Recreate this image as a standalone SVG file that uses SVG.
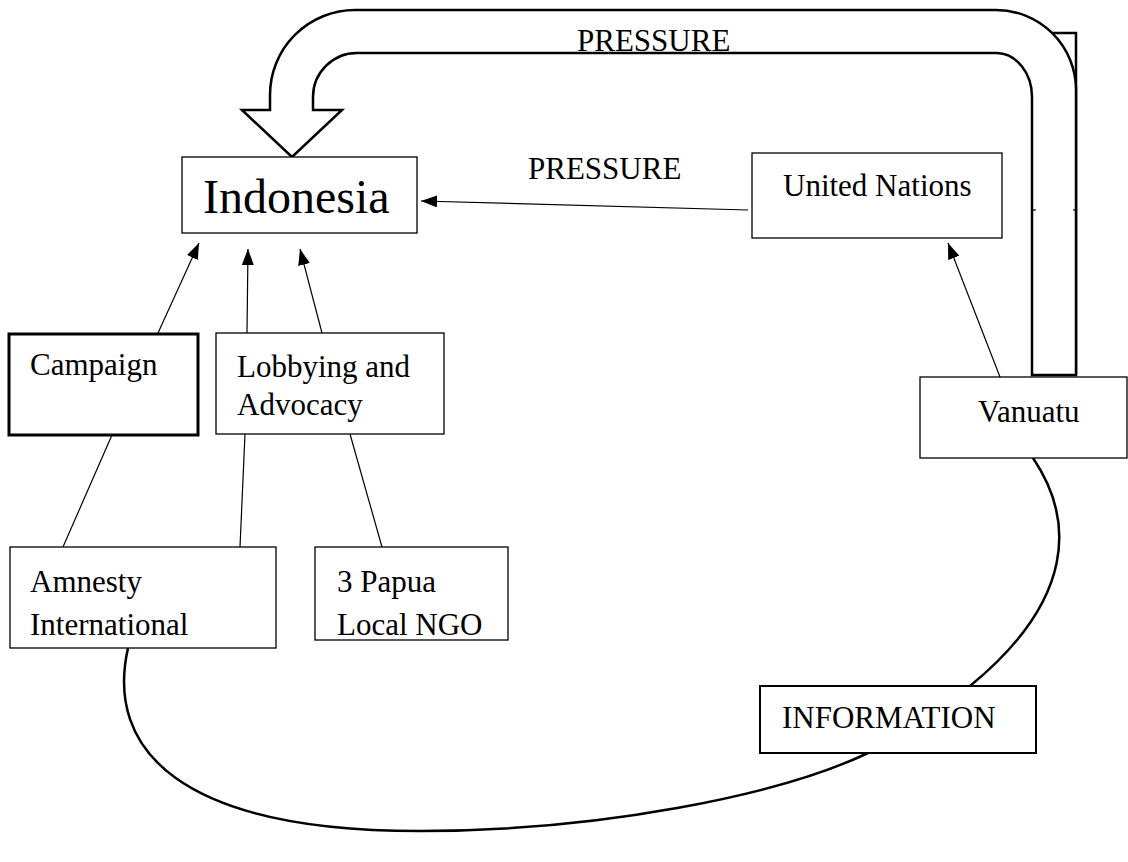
<svg xmlns="http://www.w3.org/2000/svg" width="1128" height="862" viewBox="0 0 1128 862">
<style>
text{font-family:"Liberation Serif","Times New Roman",serif;font-size:31px;fill:#000}
.box{fill:#fff;stroke:#000;stroke-width:1.3}
.thick{fill:#fff;stroke:#000;stroke-width:3}
.info{fill:#fff;stroke:#000;stroke-width:2}
.ln{fill:none;stroke:#000;stroke-width:1.2}
.curve{fill:none;stroke:#000;stroke-width:2.5}
</style>
<defs>
<marker id="ah" markerUnits="userSpaceOnUse" markerWidth="16" markerHeight="12" refX="16" refY="6" orient="auto">
<path d="M0,0 L16,6 L0,12 z" fill="#000"/>
</marker>
</defs>
<g id="connectors">
<path class="curve" d="M1048 33 H1076 V375"/>
<path class="curve" fill="#fff" d="M1076 375 V90 A80 80 0 0 0 996 10 H355 A85 85 0 0 0 270 95 V110 H242 L292 157 L342 110 H313 V97 A44 44 0 0 1 357 53 H997 A36 44 0 0 1 1032 97 V375 Z" style="fill:#fff"/>
<line class="ln" x1="1032" y1="210" x2="1036" y2="210" stroke-width="2"/>
<line class="ln" x1="1073" y1="210" x2="1077" y2="210" stroke-width="2"/>
<line class="ln" x1="748" y1="210" x2="421" y2="201" marker-end="url(#ah)"/>
<line class="ln" x1="158" y1="333" x2="199" y2="243" marker-end="url(#ah)"/>
<line class="ln" x1="247" y1="333" x2="248" y2="249" marker-end="url(#ah)"/>
<line class="ln" x1="322" y1="333" x2="300" y2="249" marker-end="url(#ah)"/>
<line class="ln" x1="1000" y1="377" x2="948" y2="243" marker-end="url(#ah)"/>
<line class="ln" x1="112" y1="435" x2="63" y2="547"/>
<line class="ln" x1="245" y1="434" x2="240" y2="547"/>
<line class="ln" x1="350" y1="434" x2="382" y2="547"/>
<path class="curve" d="M1033 458 C1075 520, 1075 600, 970 686"/>
<path class="curve" d="M128 648 C105 750, 180 831, 420 831 C600 831, 780 795, 868 753"/>
</g>
<text x="577" y="51">PRESSURE</text>
<text x="528" y="179">PRESSURE</text>
<g id="indonesia">
<rect class="box" x="182" y="157" width="235" height="76"/>
<text x="203" y="213" style="font-size:48px">Indonesia</text>
</g>
<g id="united-nations">
<rect class="box" x="752" y="153" width="250" height="85"/>
<text x="783" y="196">United Nations</text>
</g>
<g id="campaign">
<rect class="thick" x="9" y="334" width="189" height="101"/>
<text x="30" y="375">Campaign</text>
</g>
<g id="lobbying">
<rect class="box" x="216" y="333" width="228" height="101"/>
<text x="237" y="377">Lobbying and</text>
<text x="237" y="415">Advocacy</text>
</g>
<g id="vanuatu">
<rect class="box" x="920" y="377" width="207" height="81"/>
<text x="978" y="422">Vanuatu</text>
</g>
<g id="amnesty">
<rect class="box" x="10" y="547" width="266" height="101"/>
<text x="30" y="592">Amnesty</text>
<text x="30" y="635">International</text>
</g>
<g id="papua">
<rect class="box" x="315" y="547" width="193" height="93"/>
<text x="337" y="592">3 Papua</text>
<text x="337" y="635">Local NGO</text>
</g>
<g id="information">
<rect class="info" x="760" y="686" width="276" height="67"/>
<text x="782" y="728">INFORMATION</text>
</g>
</svg>
